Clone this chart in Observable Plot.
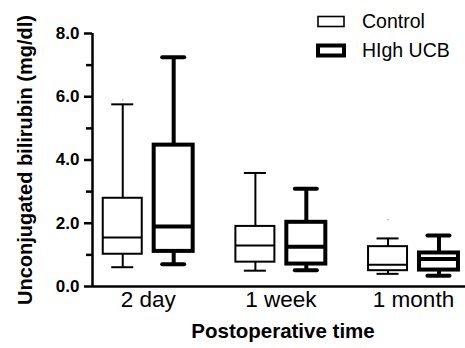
<!DOCTYPE html>
<html>
<head>
<meta charset="utf-8">
<script src="https://cdn.jsdelivr.net/npm/d3@7"></script>
<script src="https://cdn.jsdelivr.net/npm/@observablehq/plot@0.6"></script>
<style>
  html, body { margin: 0; padding: 0; background: #fff; }
  #wrap { position: relative; width: 465px; height: 348px; font-family: "Liberation Sans", Arial, sans-serif; }
  #legend { position: absolute; left: 0; top: 0; pointer-events: none; }
</style>
</head>
<body>
<div id="wrap">
  <div id="chart"></div>
  <svg id="legend" width="465" height="70"></svg>
</div>
<script>
const groups = ["2 day", "1 week", "1 month"];
const series = ["Control", "HIgh UCB"];
const controlMin = [0.61, 0.50, 0.40];
const controlQ1 = [1.02, 0.77, 0.50];
const controlMedian = [1.55, 1.30, 0.69];
const controlQ3 = [2.79, 1.90, 1.26];
const controlMax = [5.76, 3.59, 1.52];
const highMin = [0.70, 0.51, 0.34];
const highQ1 = [1.11, 0.71, 0.52];
const highMedian = [1.90, 1.26, 0.87];
const highQ3 = [4.47, 2.03, 1.06];
const highMax = [7.25, 3.09, 1.61];
const outlierGroup = ["2 day", "1 month"];
const outlierValue = [5.9, 2.11];
const yTicks = [0, 2, 4, 6, 8];
const yMinorTicks = [1, 3, 5, 7];
const yLabel = "Unconjugated bilirubin (mg/dl)";
const xLabel = "Postoperative time";

const stats = [
  [controlMin, controlQ1, controlMedian, controlQ3, controlMax],
  [highMin, highQ1, highMedian, highQ3, highMax]
];
const rows = [];
series.forEach((s, si) => groups.forEach((g, gi) => {
  const [mn, q1, md, q3, mx] = stats[si].map(a => a[gi]);
  rows.push({series: s, group: g, si, gi, min: mn, q1, median: md, q3, max: mx});
}));
const outliers = outlierGroup.map((g, i) => ({gi: groups.indexOf(g), si: 0, value: outlierValue[i]}));

const offset = 0.192, halfBox = 0.147, halfCap = 0.083;
const pos = d => d.gi + (d.si === 0 ? -offset : offset);
const widthOf = [2, 4];

function boxMarks(data, sw, cap) {
  return [
    Plot.ruleX(data, {x: pos, y1: "q3", y2: "max", stroke: "black", strokeWidth: sw}),
    Plot.ruleX(data, {x: pos, y1: "min", y2: "q1", stroke: "black", strokeWidth: sw}),
    Plot.ruleY(data, {y: "max", x1: d => pos(d) - halfCap, x2: d => pos(d) + halfCap, stroke: "black", strokeWidth: sw, strokeLinecap: cap}),
    Plot.ruleY(data, {y: "min", x1: d => pos(d) - halfCap, x2: d => pos(d) + halfCap, stroke: "black", strokeWidth: sw, strokeLinecap: cap}),
    Plot.rect(data, {x1: d => pos(d) - halfBox, x2: d => pos(d) + halfBox, y1: "q1", y2: "q3", fill: "white", stroke: "black", strokeWidth: sw}),
    Plot.ruleY(data, {y: "median", x1: d => pos(d) - halfBox, x2: d => pos(d) + halfBox, stroke: "black", strokeWidth: sw})
  ];
}

const chart = Plot.plot({
  width: 465,
  height: 348,
  marginLeft: 92,
  marginRight: 0,
  marginTop: 33,
  marginBottom: 62,
  style: {fontFamily: "'Liberation Sans', Arial, sans-serif", color: "black", background: "white", overflow: "visible"},
  x: {type: "linear", domain: [-0.42, 2.392], axis: null},
  y: {domain: [0, 8]},
  marks: [
    Plot.ruleX([-0.42], {y1: 0, y2: 8, stroke: "black", strokeWidth: 2.5}),
    Plot.ruleY([0], {stroke: "black", strokeWidth: 2.5}),
    Plot.axisY(yTicks, {tickSize: 8, tickPadding: 5, tickFormat: d3.format(".1f"), fontSize: 17, fontWeight: "bold", label: null, strokeWidth: 2.5}),
    Plot.axisY(yMinorTicks, {tickSize: 6, tickFormat: () => "", label: null, strokeWidth: 2.5}),
    ...boxMarks(rows.filter(d => d.si === 0), widthOf[0], "butt"),
    ...boxMarks(rows.filter(d => d.si === 1), widthOf[1], "round"),
    Plot.dot(outliers, {x: pos, y: "value", r: 0.7, fill: "#999", stroke: null}),
    Plot.text(groups, {x: (d, i) => i, frameAnchor: "bottom", dy: 20, fontSize: 22.5, text: d => d}),
    Plot.text([xLabel], {frameAnchor: "bottom", dy: 51, dx: 4, fontSize: 20.5, fontWeight: "bold", textAnchor: "middle", text: d => d}),
    Plot.text([yLabel], {frameAnchor: "left", dx: -67, rotate: -90, textAnchor: "middle", fontSize: 20, fontWeight: "bold", text: d => d})
  ]
});
document.getElementById("chart").appendChild(chart);

// Legend (overlay, top right)
const leg = d3.select("#legend");
const legendRows = [
  {label: series[0], sw: 1.6, y: 21.5, h: 10},
  {label: series[1], sw: 4, y: 50.5, h: 10}
];
legendRows.forEach(r => {
  leg.append("rect").attr("x", 318).attr("y", r.y - r.h / 2).attr("width", 26).attr("height", r.h)
    .attr("fill", "white").attr("stroke", "black").attr("stroke-width", r.sw);
  leg.append("text").attr("x", 362).attr("y", r.y).attr("dy", "0.35em")
    .attr("font-family", "'Liberation Sans', Arial, sans-serif").attr("font-size", 19.5)
    .text(r.label);
});
</script>
</body>
</html>
